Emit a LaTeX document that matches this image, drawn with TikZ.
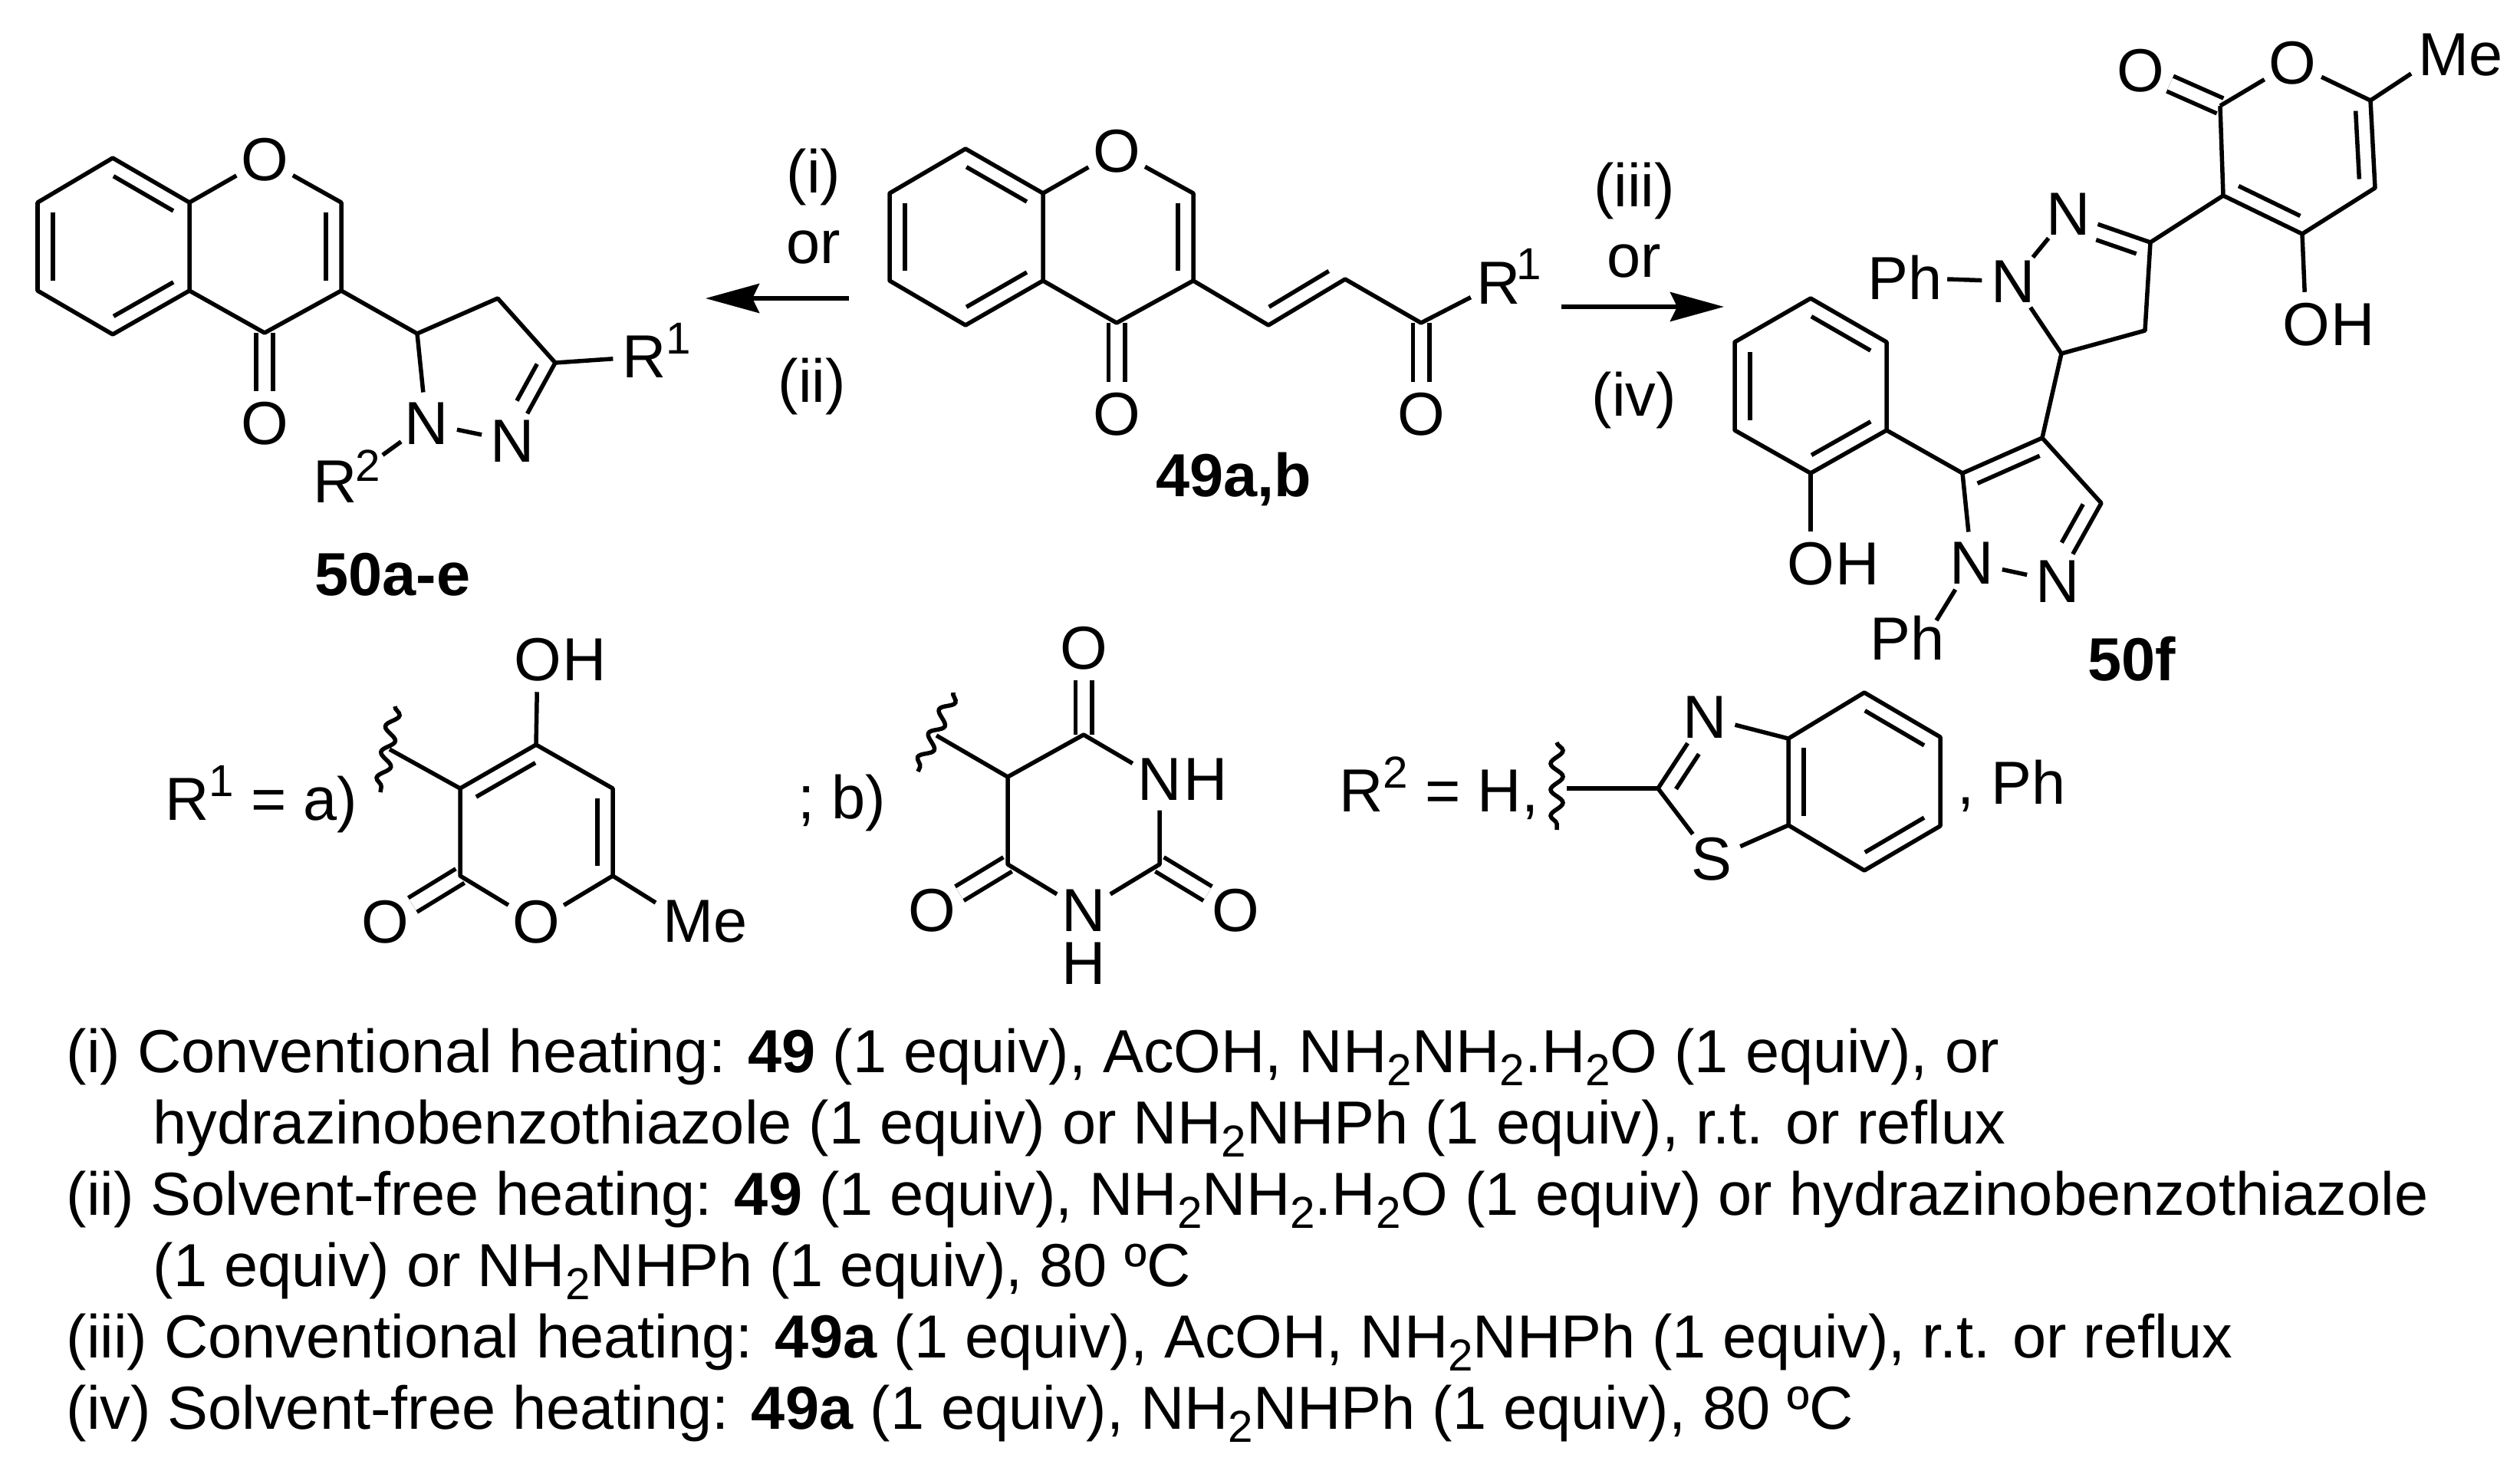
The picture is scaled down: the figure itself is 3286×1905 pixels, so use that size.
\documentclass[tikz,border=0pt]{standalone}
\usepackage{fontspec}
\setmainfont{Liberation Sans}
\usetikzlibrary{positioning,calc,arrows.meta,decorations.pathmorphing}

\newcommand{\chemfont}{\fontsize{22.55pt}{26pt}\selectfont}
\newcommand{\smallfont}{\fontsize{16.6pt}{18pt}\selectfont}
\newcommand{\chemsup}[1]{\raisebox{.31cm}{\smallfont #1}}
\newcommand{\chemsub}[1]{\raisebox{-.17cm}{\smallfont #1}}
\newcommand{\inbond}[3][.11]{\draw[bond] ($(#2)!#1!(#3)!.2cm!90:(#3)$) -- ($(#3)!.11!(#2)!.2cm!-90:(#2)$);}
\newcommand{\inbondb}[3][.11]{\draw[bond] ($(#2)!.11!(#3)!.2cm!90:(#3)$) -- ($(#3)!#1!(#2)!.2cm!-90:(#2)$);}

\tikzset{
  bond/.style={line width=.055cm,line join=round},
  dbond/.style={line width=.055cm,double,double distance=.16cm},
  wavy/.style={line width=.055cm,decorate,decoration={snake,segment length=.34cm,amplitude=.08cm}},
  rxn/.style={line width=.055cm,-{Stealth[length=.7cm,width=.38cm,inset=.09cm]}},
  atom/.style={circle,inner sep=0pt,minimum size=.8cm,font=\chemfont},
  tag/.style={inner sep=0pt,font=\chemfont},
  grp/.style={inner sep=.06cm,font=\chemfont},
  supnum/.style={inner sep=.02cm,font=\smallfont},
  cpd/.style={inner sep=0pt,anchor=base,font=\chemfont\bfseries},
  cond/.style={inner sep=0pt,anchor=base west,font=\chemfont},
  over/.style={inner sep=0pt,anchor=base,font=\chemfont}
}

\begin{document}
\begin{tikzpicture}[x=.01cm,y=-.01cm]
\useasboundingbox (0,0) rectangle (3286,1905);

\coordinate (p1) at (147,206);
\coordinate (p2) at (49,264);
\coordinate (p3) at (49,379);
\coordinate (p4) at (147,436);
\coordinate (p5) at (247,379);
\coordinate (p6) at (247,264);
\coordinate (p7) at (445,264);
\coordinate (p8) at (445,379);
\coordinate (p9) at (345,434);
\coordinate (p10) at (544,435);
\coordinate (p11) at (649,389);
\coordinate (p12) at (724,473);
\node[atom] (pO) at (345,208) {O};
\node[atom] (pK) at (345,552) {O};
\node[atom] (pn1) at (556,552) {N};
\node[atom] (pn2) at (668,575) {N};
\node[atom] (pr) at (840,465) {R};
\node[supnum] (prs) at (885,441) {1};
\node[atom] (pq) at (437,628) {R};
\node[supnum] (pqs) at (480,607) {2};
\draw[dbond] (p9) -- (pK);
\draw[bond] (p1) -- (p2) -- (p3) -- (p4) -- (p5) -- (p6) -- cycle;
\draw[bond] (p6) -- (pO) -- (p7) -- (p8) -- (p9) -- (p5);
\draw[bond] (p8) -- (p10) -- (p11) -- (p12) -- (pn2) -- (pn1) -- (p10);
\draw[bond] (p12) -- (pr);
\draw[bond] (pn1) -- (pqs);
\inbond{p2}{p3}
\inbond{p4}{p5}
\inbond{p6}{p1}
\inbond{p8}{p7}
\inbond[.42]{pn2}{p12}
\node[cpd] (pname) at (512,776) {50a-e};

\coordinate (ltail) at (1107,389);
\coordinate (lhead) at (920,389);
\draw[rxn] (ltail) -- (lhead);
\node[over] (li) at (1061,251) {(i)};
\node[over] (lor) at (1061,343) {or};
\node[over] (lii) at (1059,524) {(ii)};

\coordinate (s1) at (1259,194);
\coordinate (s2) at (1160,252);
\coordinate (s3) at (1160,366);
\coordinate (s4) at (1259,424);
\coordinate (s5) at (1360,366);
\coordinate (s6) at (1360,252);
\coordinate (s7) at (1556,252);
\coordinate (s8) at (1556,366);
\coordinate (s9) at (1456,421);
\coordinate (s10) at (1654,424);
\coordinate (s11) at (1754,364);
\coordinate (s12) at (1853,421);
\node[atom] (sO) at (1456,197) {O};
\node[atom] (sK) at (1456,540) {O};
\node[atom] (sL) at (1853,540) {O};
\node[atom] (sr) at (1954,369) {R};
\node[supnum] (srs) at (1994,344) {1};
\draw[dbond] (s9) -- (sK);
\draw[dbond] (s12) -- (sL);
\draw[bond] (s1) -- (s2) -- (s3) -- (s4) -- (s5) -- (s6) -- cycle;
\draw[bond] (s6) -- (sO) -- (s7) -- (s8) -- (s9) -- (s5);
\draw[bond] (s8) -- (s10) -- (s11) -- (s12) -- (sr);
\inbond{s2}{s3}
\inbond{s4}{s5}
\inbond{s6}{s1}
\inbond{s8}{s7}
\inbond{s10}{s11}
\node[cpd] (sname) at (1609,647) {49a,b};

\coordinate (rtail) at (2036,400);
\coordinate (rhead) at (2248,400);
\draw[rxn] (rtail) -- (rhead);
\node[over] (riii) at (2131,269) {(iii)};
\node[over] (ror) at (2131,361) {or};
\node[over] (riv) at (2131,542) {(iv)};

\coordinate (fa) at (2895,138);
\coordinate (fb) at (3091,131);
\coordinate (fc) at (3097,245);
\coordinate (fd) at (3002,305);
\coordinate (fe) at (2899,255);
\coordinate (fg) at (2804,316);
\coordinate (fi) at (2797,431);
\coordinate (fj) at (2688,461);
\coordinate (fk) at (2663,571);
\coordinate (fl) at (2559,617);
\coordinate (fq) at (2740,656);
\coordinate (g1) at (2361,389);
\coordinate (g2) at (2460,446);
\coordinate (g3) at (2460,561);
\coordinate (g4) at (2361,617);
\coordinate (g5) at (2262,561);
\coordinate (g6) at (2262,446);
\coordinate (fMe) at (3144,96);
\coordinate (ftop) at (2525,809);
\node[atom] (fO) at (2989,82) {O};
\node[atom] (fK) at (2791,92) {O};
\node[tag] (fM) at (3209,72) {Me};
\node[atom] (fH) at (3007,423) {O};
\node[tag,right=-.1cm of fH] (fHh) {H};
\node[atom] (fn) at (2697,279) {N};
\node[atom] (fm) at (2625,367) {N};
\node[grp] (fP) at (2484,362) {Ph};
\node[atom] (fr) at (2683,758) {N};
\node[atom] (fs) at (2571,734) {N};
\node[grp] (ft) at (2487,832) {Ph};
\node[atom] (gH) at (2361,735) {O};
\node[tag,right=-.1cm of gH] (gHh) {H};
\draw[dbond] (fa) -- (fK);
\draw[bond] (fa) -- (fO) -- (fb) -- (fc) -- (fd) -- (fe) -- (fa);
\draw[bond] (fb) -- (fMe);
\draw[bond] (fd) -- (fH);
\draw[bond] (fe) -- (fg) -- (fn) -- (fm) -- (fj) -- (fi) -- (fg);
\draw[bond] (fm) -- (fP);
\draw[bond] (fj) -- (fk) -- (fq) -- (fr) -- (fs) -- (fl) -- (fk);
\draw[bond] (fs) -- (ftop);
\draw[bond] (g1) -- (g2) -- (g3) -- (g4) -- (g5) -- (g6) -- cycle;
\draw[bond] (g3) -- (fl);
\draw[bond] (g4) -- (gH);
\inbond{fe}{fd}
\inbond{fc}{fb}
\inbondb[.4]{fg}{fn}
\inbond{fk}{fl}
\inbond[.4]{fr}{fq}
\inbond{g2}{g1}
\inbond{g6}{g5}
\inbond{g4}{g3}
\node[cpd] (fname) at (2780,887) {50f};

\node[cond] (hlab) at (215,1069) {R\chemsup{1} = a)};
\coordinate (h1) at (600,1028);
\coordinate (h2) at (699,971);
\coordinate (h3) at (799,1028);
\coordinate (h4) at (799,1142);
\coordinate (h6) at (600,1142);
\coordinate (hs) at (508,977);
\coordinate (hMe) at (855,1177);
\coordinate (hw1) at (515,921);
\coordinate (hw2) at (496,1033);
\node[atom] (h5) at (699,1202) {O};
\node[atom] (hK) at (502,1202) {O};
\node[tag] (hM) at (920,1202) {Me};
\node[atom] (hH) at (701,860) {O};
\node[tag,right=-.1cm of hH] (hHh) {H};
\draw[dbond] (h6) -- (hK);
\draw[bond] (h1) -- (h2) -- (h3) -- (h4) -- (h5) -- (h6) -- (h1);
\draw[bond] (h2) -- (hH);
\draw[bond] (h4) -- (hMe);
\draw[bond] (h1) -- (hs);
\draw[wavy] (hw1) -- (hw2);
\inbond{h2}{h1}
\inbond{h4}{h3}

\node[cond] (blab) at (1040,1067) {; b)};
\coordinate (b1) at (1314,1013);
\coordinate (b2) at (1413,958);
\coordinate (b3) at (1512,1127);
\coordinate (b5) at (1314,1127);
\coordinate (bs) at (1221,959);
\coordinate (bw1) at (1243,903);
\coordinate (bw2) at (1197,1006);
\node[atom] (bK) at (1413,845) {O};
\node[atom] (bN) at (1512,1016) {N};
\node[tag,right=-.1cm of bN] (bNh) {H};
\node[atom] (bM) at (1413,1187) {N};
\node[tag,below=0pt of bM] (bMh) {H};
\node[atom] (bL) at (1215,1187) {O};
\node[atom] (bR) at (1611,1187) {O};
\draw[dbond] (b2) -- (bK);
\draw[dbond] (b5) -- (bL);
\draw[dbond] (b3) -- (bR);
\draw[bond] (b1) -- (b2) -- (bN) -- (b3) -- (bM) -- (b5) -- (b1);
\draw[bond] (b1) -- (bs);
\draw[wavy] (bw1) -- (bw2);

\node[cond] (tlab) at (1746,1058) {R\chemsup{2} = H,};
\coordinate (t1) at (2162,1028);
\coordinate (t2) at (2332,963);
\coordinate (t3) at (2332,1076);
\coordinate (t4) at (2431,903);
\coordinate (t5) at (2530,961);
\coordinate (t6) at (2530,1077);
\coordinate (t7) at (2431,1135);
\coordinate (ts) at (2043,1028);
\coordinate (tw1) at (2030,968);
\coordinate (tw2) at (2030,1082);
\node[atom] (tN) at (2223,935) {N};
\node[atom] (tS) at (2232,1120) {S};
\draw[bond] (t1) -- (tN) -- (t2) -- (t3) -- (tS) -- (t1);
\draw[bond] (t2) -- (t4) -- (t5) -- (t6) -- (t7) -- (t3);
\draw[bond] (t1) -- (ts);
\draw[wavy] (tw1) -- (tw2);
\inbond[.4]{tN}{t1}
\inbond{t2}{t3}
\inbond{t7}{t6}
\inbond{t5}{t4}
\node[cond] (tend) at (2552,1048) {, Ph};

\node[cond] (c1) at (86,1398) {(i) Conventional heating: \textbf{49} (1 equiv), AcOH, NH\chemsub{2}NH\chemsub{2}.H\chemsub{2}O (1 equiv), or};
\node[cond] (c2) at (199,1491) {hydrazinobenzothiazole (1 equiv) or NH\chemsub{2}NHPh (1 equiv), r.t. or reflux};
\node[cond] (c3) at (86,1584) {(ii) Solvent-free heating: \textbf{49} (1 equiv), NH\chemsub{2}NH\chemsub{2}.H\chemsub{2}O (1 equiv) or hydrazinobenzothiazole};
\node[cond] (c4) at (199,1677) {(1 equiv) or NH\chemsub{2}NHPh (1 equiv), 80 ºC};
\node[cond] (c5) at (86,1770) {(iii) Conventional heating: \textbf{49a} (1 equiv), AcOH, NH\chemsub{2}NHPh (1 equiv), r.t. or reflux};
\node[cond] (c6) at (86,1863) {(iv) Solvent-free heating: \textbf{49a} (1 equiv), NH\chemsub{2}NHPh (1 equiv), 80 ºC};
\end{tikzpicture}
\end{document}
